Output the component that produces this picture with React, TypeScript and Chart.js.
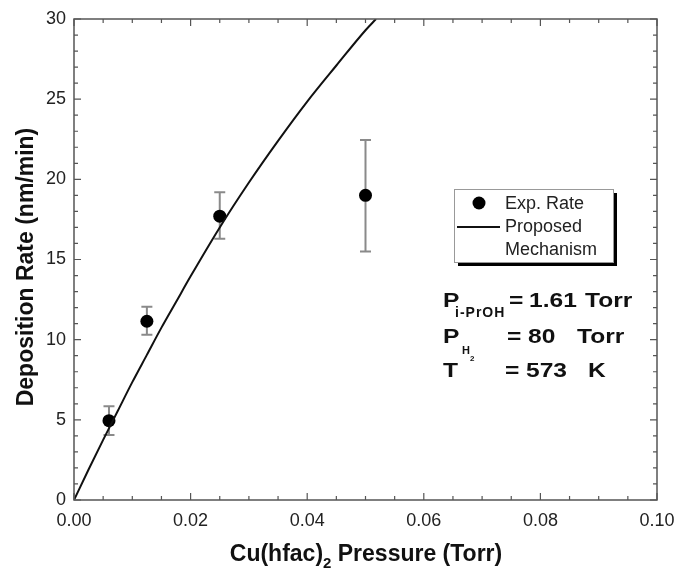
import React, { useEffect, useRef } from "react";
import { Chart, registerables } from "chart.js";

Chart.register(...registerables);

// ---- data ----
const expPressure = [0.006, 0.0125, 0.025, 0.05];
const expRate = [4.95, 11.15, 17.7, 19.0];
const expRateLow = [4.05, 10.3, 16.3, 15.5];
const expRateHigh = [5.85, 12.05, 19.2, 22.45];

const modelPressure = [0, 0.0025, 0.005, 0.0075, 0.01, 0.0125, 0.015, 0.0175, 0.02, 0.025, 0.03, 0.035, 0.04, 0.045, 0.05, 0.0518];
const modelRate = [0, 1.9, 3.75, 5.55, 7.35, 9.05, 10.75, 12.35, 13.95, 17.0, 19.8, 22.4, 24.85, 27.1, 29.3, 30.0];

const xTicks = { min: 0, max: 0.1, major: 0.02, minor: 0.005 };
const yTicks = { min: 0, max: 30, major: 5, minor: 1 };

const legendLabels = ["Exp. Rate", "Proposed", "Mechanism"];
const xTitle = ["Cu(hfac)", "2", " Pressure (Torr)"];
const yTitle = "Deposition Rate (nm/min)";

const FONT = "'Liberation Sans', Arial, sans-serif";

function txt(ctx: any, s: string, x: number, y: number, font: string, sx = 1) {
  ctx.save();
  ctx.font = font;
  ctx.translate(x, y);
  ctx.scale(sx, 1);
  ctx.fillText(s, 0, 0);
  ctx.restore();
}

const decorPlugin = {
  id: "decor",
  beforeDatasetsDraw(chart: any) {
    const { ctx, scales } = chart;
    const x = scales.x;
    const y = scales.y;
    ctx.save();
    ctx.strokeStyle = "#8a8a8a";
    ctx.lineWidth = 2;
    for (let i = 0; i < expPressure.length; i++) {
      const px = x.getPixelForValue(expPressure[i]);
      const lo = y.getPixelForValue(expRateLow[i]);
      const hi = y.getPixelForValue(expRateHigh[i]);
      ctx.beginPath();
      ctx.moveTo(px, lo);
      ctx.lineTo(px, hi);
      ctx.moveTo(px - 5.5, lo);
      ctx.lineTo(px + 5.5, lo);
      ctx.moveTo(px - 5.5, hi);
      ctx.lineTo(px + 5.5, hi);
      ctx.stroke();
    }
    ctx.restore();
  },
  afterDraw(chart: any) {
    const { ctx, chartArea, scales } = chart;
    const { left, right, top, bottom } = chartArea;
    const x = scales.x;
    const y = scales.y;
    ctx.save();
    // frame
    ctx.strokeStyle = "#555";
    ctx.lineWidth = 1.5;
    ctx.strokeRect(left, top, right - left, bottom - top);
    // inward ticks
    ctx.lineWidth = 1.2;
    ctx.beginPath();
    const nx = Math.round((xTicks.max - xTicks.min) / xTicks.minor);
    for (let i = 0; i <= nx; i++) {
      const v = xTicks.min + i * xTicks.minor;
      const px = x.getPixelForValue(v);
      const r = v / xTicks.major;
      const len = Math.abs(r - Math.round(r)) < 1e-6 ? 7 : 4;
      ctx.moveTo(px, bottom);
      ctx.lineTo(px, bottom - len);
      ctx.moveTo(px, top);
      ctx.lineTo(px, top + len);
    }
    const ny = Math.round((yTicks.max - yTicks.min) / yTicks.minor);
    for (let i = 0; i <= ny; i++) {
      const v = yTicks.min + i * yTicks.minor;
      const py = y.getPixelForValue(v);
      const len = v % yTicks.major === 0 ? 7 : 4;
      ctx.moveTo(left, py);
      ctx.lineTo(left + len, py);
      ctx.moveTo(right, py);
      ctx.lineTo(right - len, py);
    }
    ctx.stroke();

    // axis titles
    ctx.fillStyle = "#111";
    ctx.font = `bold 23px ${FONT}`;
    ctx.textBaseline = "middle";
    ctx.textAlign = "center";
    ctx.save();
    ctx.translate(27, 267);
    ctx.rotate(-Math.PI / 2);
    ctx.fillText(yTitle, 0, 0);
    ctx.restore();

    ctx.textAlign = "left";
    ctx.textBaseline = "alphabetic";
    const tBig = `bold 23px ${FONT}`;
    const tSub = `bold 15px ${FONT}`;
    ctx.font = tBig;
    const w0 = ctx.measureText(xTitle[0]).width;
    const w2 = ctx.measureText(xTitle[2]).width;
    ctx.font = tSub;
    const w1 = ctx.measureText(xTitle[1]).width;
    const total = w0 + w1 + w2;
    const sx = 366 - total / 2;
    const base = 561;
    txt(ctx, xTitle[0], sx, base, tBig);
    txt(ctx, xTitle[1], sx + w0, base + 7, tSub);
    txt(ctx, xTitle[2], sx + w0 + w1, base, tBig);

    // legend
    const lx = 454, ly = 189, lw = 159, lh = 73;
    ctx.fillStyle = "#000";
    ctx.fillRect(lx + 4, ly + 4, lw, lh);
    ctx.fillStyle = "#fff";
    ctx.fillRect(lx, ly, lw, lh);
    ctx.strokeStyle = "#999";
    ctx.lineWidth = 1;
    ctx.strokeRect(lx + 0.5, ly + 0.5, lw, lh);
    ctx.fillStyle = "#000";
    ctx.beginPath();
    ctx.arc(479, 203, 6.5, 0, Math.PI * 2);
    ctx.fill();
    ctx.strokeStyle = "#111";
    ctx.lineWidth = 2;
    ctx.beginPath();
    ctx.moveTo(457, 227);
    ctx.lineTo(500, 227);
    ctx.stroke();
    ctx.fillStyle = "#222";
    ctx.font = `18px ${FONT}`;
    ctx.textBaseline = "middle";
    ctx.fillText(legendLabels[0], 505, 204);
    ctx.fillText(legendLabels[1], 505, 227);
    ctx.fillText(legendLabels[2], 505, 250);

    // conditions
    ctx.textBaseline = "alphabetic";
    ctx.fillStyle = "#111";
    const big = `bold 21px ${FONT}`;
    const S = 1.17;
    txt(ctx, "P", 443, 307, big, S);
    (ctx as any).letterSpacing = "1px";
    txt(ctx, "i-PrOH", 455, 317, `bold 14px ${FONT}`);
    (ctx as any).letterSpacing = "0px";
    txt(ctx, "=", 509, 307, big, S);
    txt(ctx, "1.61", 529, 307, big, S);
    txt(ctx, "Torr", 585, 307, big, S);

    txt(ctx, "P", 443, 343, big, S);
    txt(ctx, "H", 462, 354, `bold 11px ${FONT}`);
    txt(ctx, "2", 470, 361, `bold 8px ${FONT}`);
    txt(ctx, "=", 507, 343, big, S);
    txt(ctx, "80", 528, 343, big, S);
    txt(ctx, "Torr", 577, 343, big, S);

    txt(ctx, "T", 443, 377, big, S);
    txt(ctx, "=", 505, 377, big, S);
    txt(ctx, "573", 526, 377, big, S);
    txt(ctx, "K", 588, 377, big, S);
    ctx.restore();
  },
};

export default function App() {
  const ref = useRef<HTMLCanvasElement | null>(null);
  useEffect(() => {
    if (!ref.current) return;
    const chart = new Chart(ref.current, {
      type: "scatter",
      data: {
        datasets: [
          {
            label: "Proposed Mechanism",
            data: modelPressure.map((p, i) => ({ x: p, y: modelRate[i] })),
            showLine: true,
            borderColor: "#111",
            borderWidth: 2,
            pointRadius: 0,
            cubicInterpolationMode: "monotone",
          },
          {
            label: "Exp. Rate",
            data: expPressure.map((p, i) => ({ x: p, y: expRate[i] })),
            pointRadius: 6.5,
            pointHoverRadius: 6.5,
            backgroundColor: "#000",
            borderWidth: 0,
          },
        ],
      },
      options: {
        responsive: false,
        animation: false,
        devicePixelRatio: 1,
        layout: { padding: { top: 19, right: 24, left: 0, bottom: 0 } },
        plugins: { legend: { display: false }, tooltip: { enabled: false } },
        scales: {
          x: {
            type: "linear",
            min: xTicks.min,
            max: xTicks.max,
            grid: { display: false, drawTicks: false },
            border: { display: false },
            ticks: {
              stepSize: xTicks.major,
              padding: 10,
              color: "#222",
              font: { family: FONT, size: 18 },
              callback: (v: any) => Number(v).toFixed(2),
            },
            afterFit: (s: any) => {
              s.height = 69;
              s.paddingLeft = 0;
              s.paddingRight = 0;
            },
          },
          y: {
            type: "linear",
            min: yTicks.min,
            max: yTicks.max,
            grid: { display: false, drawTicks: false },
            border: { display: false },
            ticks: {
              stepSize: yTicks.major,
              padding: 8,
              color: "#222",
              font: { family: FONT, size: 18 },
            },
            afterFit: (s: any) => {
              s.width = 74;
              s.paddingTop = 0;
              s.paddingBottom = 0;
            },
          },
        },
      },
      plugins: [decorPlugin],
    });
    return () => chart.destroy();
  }, []);
  return (
    <canvas
      ref={ref}
      width={681}
      height={569}
      style={{ position: "absolute", left: 0, top: 0, width: 681, height: 569 }}
    />
  );
}
